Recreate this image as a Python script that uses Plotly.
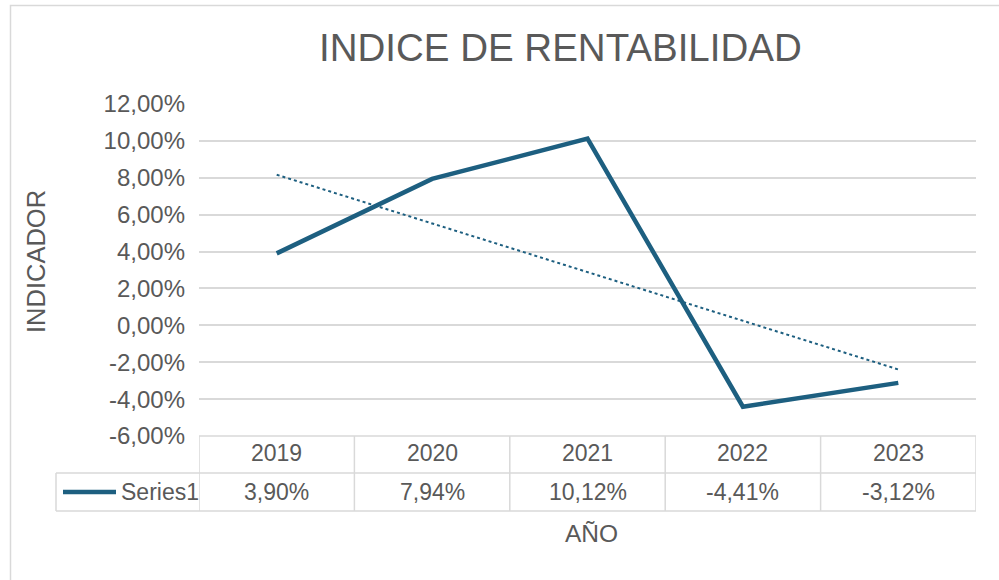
import numpy as np
import plotly.graph_objects as go

years = ["2019", "2020", "2021", "2022", "2023"]
values = [0.0390, 0.0794, 0.1012, -0.0441, -0.0312]
value_labels = ["3,90%", "7,94%", "10,12%", "-4,41%", "-3,12%"]
series_name = "Series1"
tick_vals = [-0.06, -0.04, -0.02, 0.0, 0.02, 0.04, 0.06, 0.08, 0.10, 0.12]
tick_labels = ["-6,00%", "-4,00%", "-2,00%", "0,00%", "2,00%", "4,00%",
               "6,00%", "8,00%", "10,00%", "12,00%"]

LINE = "#1d5f80"
GRID = "#d9d9d9"
TXT = "#595959"
FONT = "Liberation Sans, Arial, sans-serif"

W, H = 999, 580
L, R, T, B = 199, 23, 104, 144
PW, PH = W - L - R, H - T - B

def py(p):
    return (H - B - p) / PH

def px(p):
    return (p - L) / PW

xs = list(range(len(years)))
coef = np.polyfit(xs, values, 1)
trend = np.polyval(coef, xs)

fig = go.Figure()
fig.add_trace(go.Scatter(x=xs, y=trend, mode="lines",
                         line=dict(color=LINE, width=2, dash="dot"),
                         showlegend=False, hoverinfo="skip"))
fig.add_trace(go.Scatter(x=xs, y=values, mode="lines", name=series_name,
                         line=dict(color=LINE, width=4.5),
                         showlegend=False))

shapes = []
y_row1 = py(473)
y_row2 = py(511)
x_left = px(56)
line_style = dict(color=GRID, width=1.5)
shapes.append(dict(type="line", xref="paper", yref="paper", x0=0, x1=1, y0=0, y1=0, line=line_style))
shapes.append(dict(type="line", xref="paper", yref="paper", x0=x_left, x1=1, y0=y_row1, y1=y_row1, line=line_style))
shapes.append(dict(type="line", xref="paper", yref="paper", x0=x_left, x1=1, y0=y_row2, y1=y_row2, line=line_style))
for i in range(len(years) + 1):
    shapes.append(dict(type="line", xref="x", yref="paper", x0=i - 0.5, x1=i - 0.5,
                       y0=0, y1=y_row2, line=line_style))
shapes.append(dict(type="line", xref="paper", yref="paper", x0=x_left, x1=x_left,
                   y0=y_row1, y1=y_row2, line=line_style))
shapes.append(dict(type="line", xref="paper", yref="paper", x0=px(63), x1=px(116),
                   y0=py(492), y1=py(492), line=dict(color=LINE, width=4.5)))
shapes.append(dict(type="rect", xref="paper", yref="paper", x0=px(10.5), x1=px(1010),
                   y0=py(590), y1=py(5.5), line=dict(color=GRID, width=1.5), layer="below"))

def ann(x, xref, y, text, size, xanchor="center", angle=0):
    return dict(x=x, xref=xref, y=y, yref="paper", text=text, showarrow=False,
                xanchor=xanchor, yanchor="middle", textangle=angle,
                font=dict(size=size, color=TXT, family=FONT))

annotations = []
for i, (yr, vl) in enumerate(zip(years, value_labels)):
    annotations.append(ann(i, "x", py(453), yr, 23))
    annotations.append(ann(i, "x", py(492), vl, 23))
annotations.append(ann(px(119), "paper", py(492), series_name, 23, xanchor="left"))
annotations.append(ann(px(591), "paper", py(533), "AÑO", 24.5))
annotations.append(ann(px(36), "paper", py(262), "INDICADOR", 25.5, angle=-90))
annotations.append(ann(px(560), "paper", py(48), "INDICE DE RENTABILIDAD", 38.5))

fig.update_layout(
    width=W, height=H, autosize=False,
    margin=dict(l=L, r=R, t=T, b=B),
    paper_bgcolor="white", plot_bgcolor="white",
    font=dict(family=FONT, color=TXT),
    xaxis=dict(range=[-0.5, len(years) - 0.5], showticklabels=False, showgrid=False,
               zeroline=False, showline=False, ticks=""),
    yaxis=dict(range=[-0.06, 0.12], tickvals=tick_vals, ticktext=tick_labels, showgrid=True,
               gridcolor=GRID, gridwidth=1.5, zeroline=False, showline=False,
               tickfont=dict(size=24, color=TXT, family=FONT), ticks="",
               ticklabelstandoff=13),
    shapes=shapes,
    annotations=annotations,
    showlegend=False,
)

fig.write_html("out.html", config={"displayModeBar": False},
               post_script="document.body.style.margin='0';")
